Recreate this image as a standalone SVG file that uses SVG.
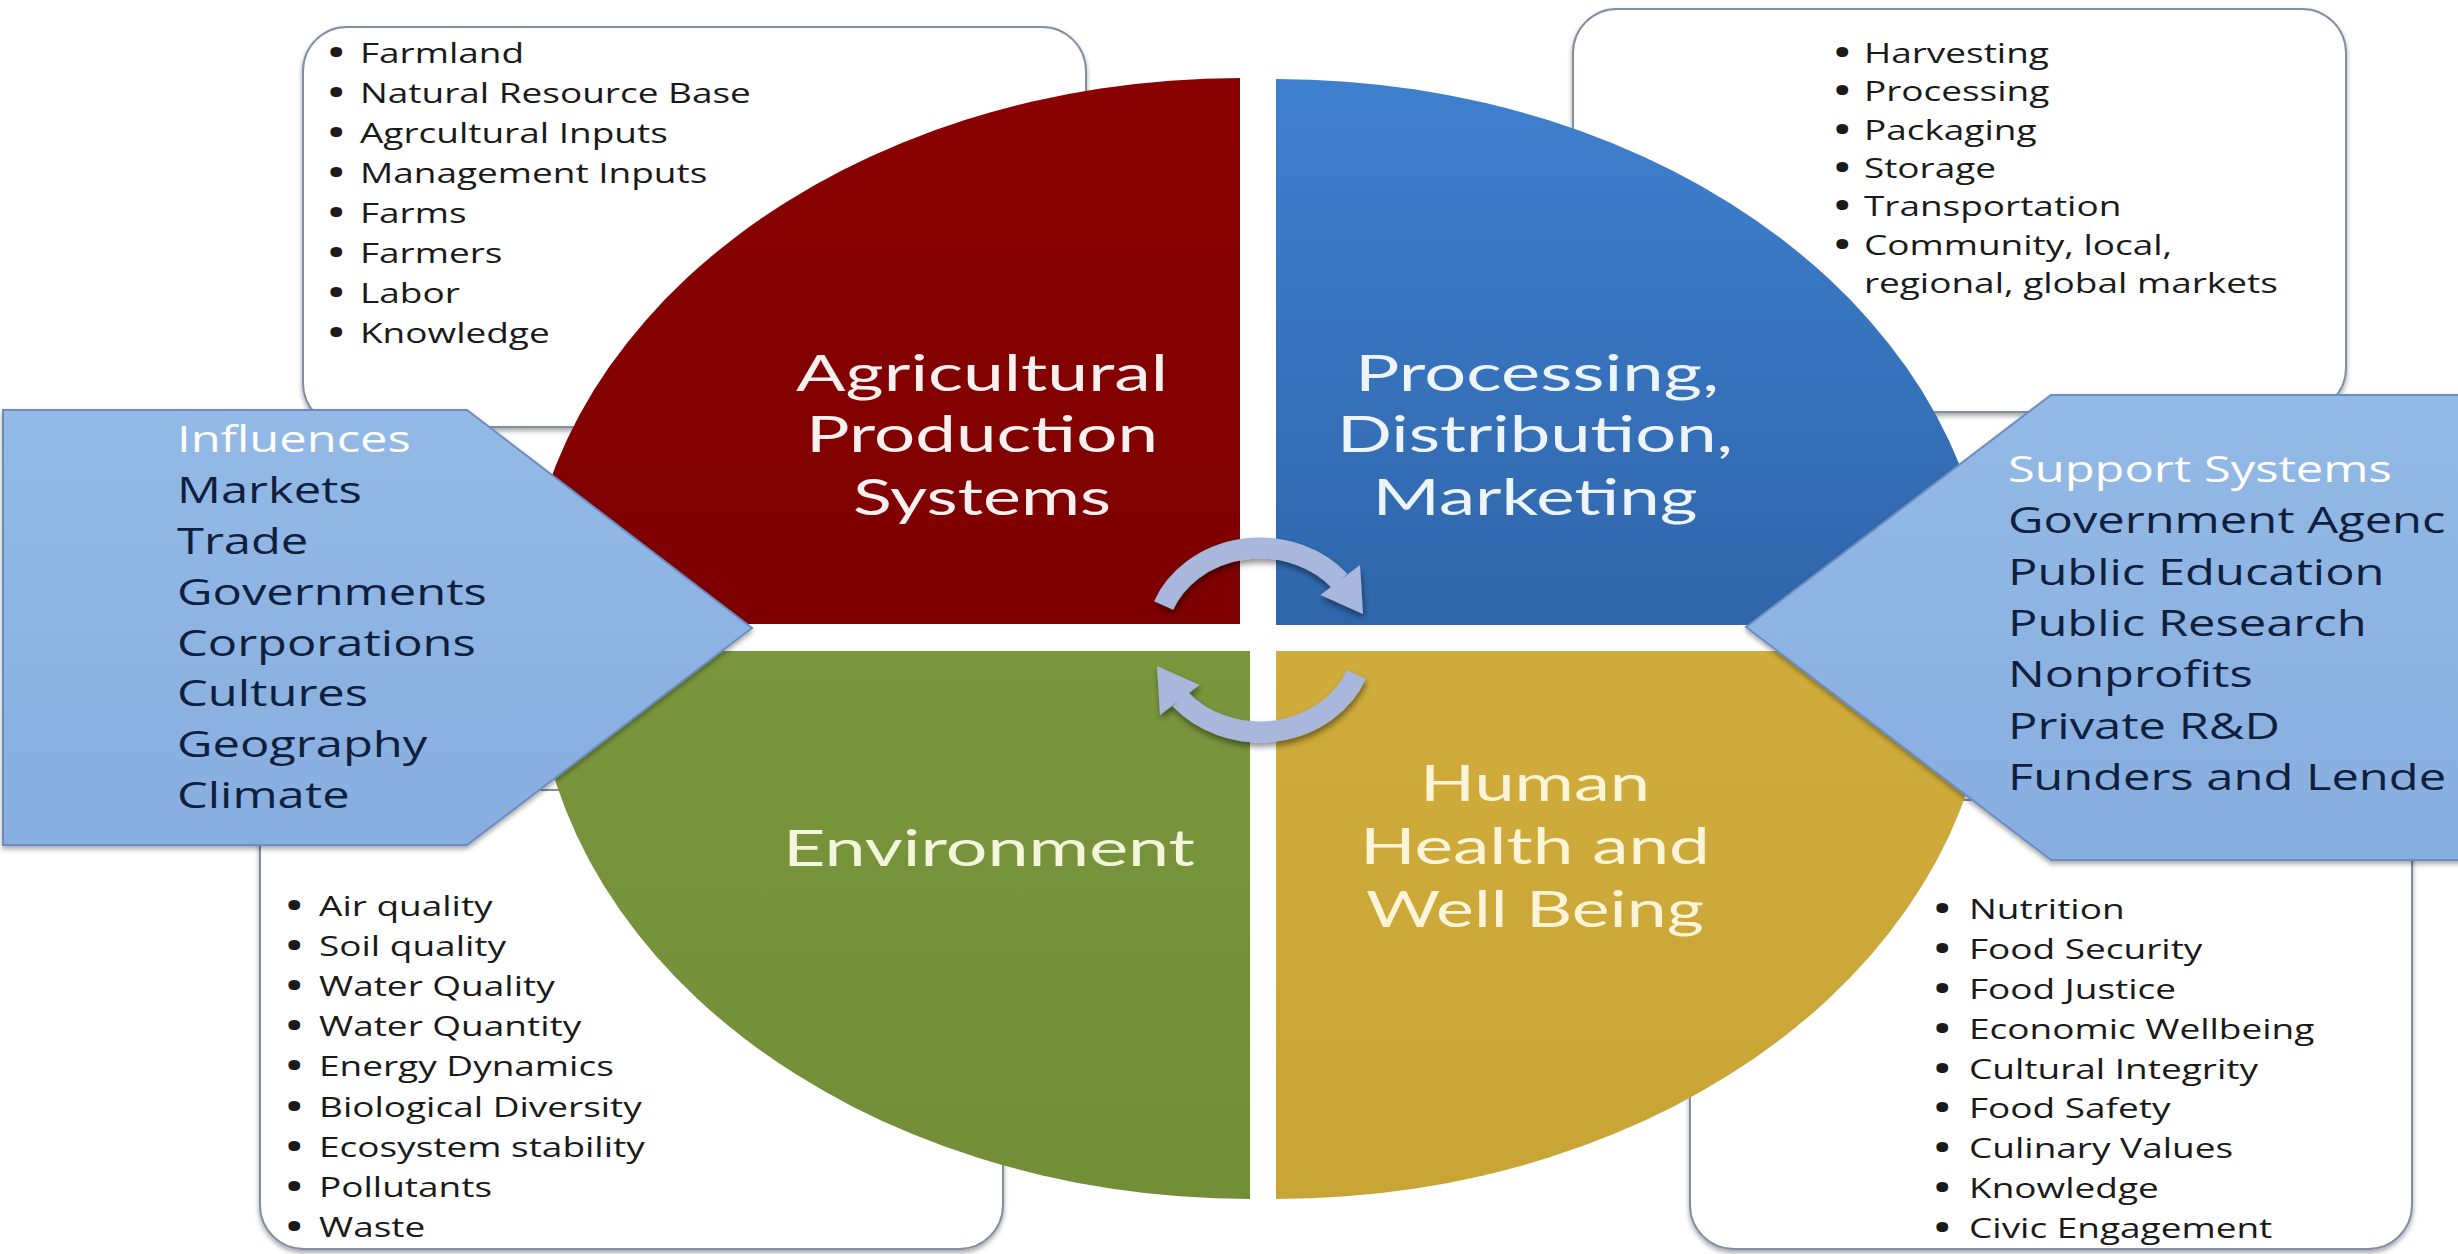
<svg xmlns="http://www.w3.org/2000/svg" width="2458" height="1254" viewBox="0 0 2458 1254">
<style>
.box{fill:#fff;stroke:#7F8FA6;stroke-width:2}
.lst{font-family:"Open Sans","Liberation Sans",sans-serif;font-size:27.5px;font-weight:500;fill:#1a1a1a}
.b{font-weight:800}
.q{font-family:Lato,"Open Sans","Liberation Sans",sans-serif;font-size:50.5px;text-anchor:middle}
.inf{font-family:"Open Sans","Liberation Sans",sans-serif;font-size:36.5px;font-weight:500;fill:#0F1F3D}
.hd{fill:#fff}
.pent{fill:url(#gPent);stroke:#6A8CC2;stroke-width:2}
</style>
<defs>
<linearGradient id="gRed" x1="0" y1="0" x2="0" y2="1"><stop offset="0" stop-color="#8A0101"/><stop offset="1" stop-color="#7E0000"/></linearGradient>
<linearGradient id="gBlue" x1="0" y1="0" x2="0" y2="1"><stop offset="0" stop-color="#3F80CE"/><stop offset="1" stop-color="#2F66AB"/></linearGradient>
<linearGradient id="gGreen" x1="0" y1="0" x2="0" y2="1"><stop offset="0" stop-color="#7A963D"/><stop offset="1" stop-color="#728E37"/></linearGradient>
<linearGradient id="gGold" x1="0" y1="0" x2="0" y2="1"><stop offset="0" stop-color="#CFAC3B"/><stop offset="1" stop-color="#C7A434"/></linearGradient>
<linearGradient id="gPent" x1="0" y1="0" x2="0" y2="1"><stop offset="0" stop-color="#93B9E6"/><stop offset="1" stop-color="#87AEDF"/></linearGradient>
<filter id="sh" x="-5%" y="-5%" width="110%" height="115%"><feDropShadow dx="0" dy="3" stdDeviation="2.5" flood-color="#000" flood-opacity="0.35"/></filter>
<filter id="shc" x="-20%" y="-20%" width="140%" height="150%"><feDropShadow dx="1" dy="4" stdDeviation="3" flood-color="#000" flood-opacity="0.45"/></filter>
<g id="cyc">
<path d="M1163.6,605.5 A104,92 0 0 1 1339.7,580.9" fill="none" stroke="#A9B7DD" stroke-width="21"/>
<polygon points="1360,565 1320.5,595 1363,614" fill="#A9B7DD"/>
</g>
</defs>
<rect x="0" y="0" width="2458" height="1254" fill="#fff"/>

<g id="box-production-inputs">
<rect class="box" x="303" y="27" width="783" height="400" rx="44" filter="url(#sh)"/>
<text class="lst" transform="translate(329 0) scale(1.345 1)"><tspan class="b" x="0" y="63">•</tspan><tspan x="23" y="63">Farmland</tspan><tspan class="b" x="0" y="103">•</tspan><tspan x="23" y="103">Natural Resource Base</tspan><tspan class="b" x="0" y="143">•</tspan><tspan x="23" y="143">Agrcultural Inputs</tspan><tspan class="b" x="0" y="183">•</tspan><tspan x="23" y="183">Management Inputs</tspan><tspan class="b" x="0" y="223">•</tspan><tspan x="23" y="223">Farms</tspan><tspan class="b" x="0" y="263">•</tspan><tspan x="23" y="263">Farmers</tspan><tspan class="b" x="0" y="303">•</tspan><tspan x="23" y="303">Labor</tspan><tspan class="b" x="0" y="343">•</tspan><tspan x="23" y="343">Knowledge</tspan></text>
</g>

<g id="box-distribution-items">
<rect class="box" x="1573" y="9" width="773" height="403" rx="44" filter="url(#sh)"/>
<text class="lst" transform="translate(1835 0) scale(1.345 1)"><tspan class="b" x="0" y="63">•</tspan><tspan x="21.5" y="63">Harvesting</tspan><tspan class="b" x="0" y="101">•</tspan><tspan x="21.5" y="101">Processing</tspan><tspan class="b" x="0" y="140">•</tspan><tspan x="21.5" y="140">Packaging</tspan><tspan class="b" x="0" y="178">•</tspan><tspan x="21.5" y="178">Storage</tspan><tspan class="b" x="0" y="216">•</tspan><tspan x="21.5" y="216">Transportation</tspan><tspan class="b" x="0" y="255">•</tspan><tspan x="21.5" y="255">Community, local,</tspan><tspan x="21.5" y="293">regional, global markets</tspan></text>
</g>

<g id="box-environment-items">
<rect class="box" x="260" y="790" width="743" height="459" rx="44" filter="url(#sh)"/>
<text class="lst" transform="translate(287 0) scale(1.345 1)"><tspan class="b" x="0" y="916">•</tspan><tspan x="23.8" y="916">Air quality</tspan><tspan class="b" x="0" y="956">•</tspan><tspan x="23.8" y="956">Soil quality</tspan><tspan class="b" x="0" y="996">•</tspan><tspan x="23.8" y="996">Water Quality</tspan><tspan class="b" x="0" y="1036">•</tspan><tspan x="23.8" y="1036">Water Quantity</tspan><tspan class="b" x="0" y="1076">•</tspan><tspan x="23.8" y="1076">Energy Dynamics</tspan><tspan class="b" x="0" y="1117">•</tspan><tspan x="23.8" y="1117">Biological Diversity</tspan><tspan class="b" x="0" y="1157">•</tspan><tspan x="23.8" y="1157">Ecosystem stability</tspan><tspan class="b" x="0" y="1197">•</tspan><tspan x="23.8" y="1197">Pollutants</tspan><tspan class="b" x="0" y="1237">•</tspan><tspan x="23.8" y="1237">Waste</tspan></text>
</g>

<g id="box-health-items">
<rect class="box" x="1690" y="800" width="722" height="449" rx="44" filter="url(#sh)"/>
<text class="lst" transform="translate(1935 0) scale(1.345 1)"><tspan class="b" x="0" y="919">•</tspan><tspan x="25.3" y="919">Nutrition</tspan><tspan class="b" x="0" y="959">•</tspan><tspan x="25.3" y="959">Food Security</tspan><tspan class="b" x="0" y="999">•</tspan><tspan x="25.3" y="999">Food Justice</tspan><tspan class="b" x="0" y="1039">•</tspan><tspan x="25.3" y="1039">Economic Wellbeing</tspan><tspan class="b" x="0" y="1079">•</tspan><tspan x="25.3" y="1079">Cultural Integrity</tspan><tspan class="b" x="0" y="1118">•</tspan><tspan x="25.3" y="1118">Food Safety</tspan><tspan class="b" x="0" y="1158">•</tspan><tspan x="25.3" y="1158">Culinary Values</tspan><tspan class="b" x="0" y="1198">•</tspan><tspan x="25.3" y="1198">Knowledge</tspan><tspan class="b" x="0" y="1238">•</tspan><tspan x="25.3" y="1238">Civic Engagement</tspan></text>
</g>

<g id="quad-agricultural-production">
<path d="M1240,624 H525 A715,546 0 0 1 1240,78 Z" fill="url(#gRed)"/>
<g class="q" fill="#F6F0F0">
<text x="982" y="391" textLength="372" lengthAdjust="spacingAndGlyphs">Agricultural</text>
<text x="982" y="452" textLength="352" lengthAdjust="spacingAndGlyphs">Production</text>
<text x="982" y="515" textLength="258" lengthAdjust="spacingAndGlyphs">Systems</text>
</g>
</g>

<g id="quad-processing">
<path d="M1276,625 V79 A715,546 0 0 1 1991,625 Z" fill="url(#gBlue)"/>
<g class="q" fill="#EEF4FB">
<text x="1537" y="391" textLength="364" lengthAdjust="spacingAndGlyphs">Processing,</text>
<text x="1535" y="452" textLength="396" lengthAdjust="spacingAndGlyphs">Distribution,</text>
<text x="1535" y="515" textLength="325" lengthAdjust="spacingAndGlyphs">Marketing</text>
</g>
</g>

<g id="quad-environment">
<path d="M1250,651 H535 A715,548 0 0 0 1250,1199 Z" fill="url(#gGreen)"/>
<text class="q" fill="#F3F6DA" x="989" y="866" textLength="412" lengthAdjust="spacingAndGlyphs">Environment</text>
</g>

<g id="quad-health">
<path d="M1276,651 H1991 A715,548 0 0 1 1276,1199 Z" fill="url(#gGold)"/>
<g class="q" fill="#FBF4D8">
<text x="1535" y="801" textLength="230" lengthAdjust="spacingAndGlyphs">Human</text>
<text x="1535" y="864" textLength="350" lengthAdjust="spacingAndGlyphs">Health and</text>
<text x="1535" y="927" textLength="338" lengthAdjust="spacingAndGlyphs">Well Being</text>
</g>
</g>

<g id="influences">
<polygon class="pent" points="3,410 467,410 752,628 467,845 3,845" filter="url(#sh)"/>
<text class="inf" transform="translate(177 0) scale(1.338 1)"><tspan class="hd" x="0" y="452">Influences</tspan><tspan x="0" y="503">Markets</tspan><tspan x="0" y="554">Trade</tspan><tspan x="0" y="605">Governments</tspan><tspan x="0" y="656">Corporations</tspan><tspan x="0" y="706">Cultures</tspan><tspan x="0" y="757">Geography</tspan><tspan x="0" y="808">Climate</tspan></text>
</g>

<g id="support-systems">
<polygon class="pent" points="1746,627 2051,395 2475,395 2475,860 2051,860" filter="url(#sh)"/>
<text class="inf" transform="translate(2008 0) scale(1.338 1)"><tspan class="hd" x="0" y="482">Support Systems</tspan><tspan x="0" y="533">Government Agenc</tspan><tspan x="0" y="585">Public Education</tspan><tspan x="0" y="636">Public Research</tspan><tspan x="0" y="687">Nonprofits</tspan><tspan x="0" y="739">Private R&amp;D</tspan><tspan x="0" y="790">Funders and Lende</tspan></text>
</g>

<g id="connectors" filter="url(#shc)">
<use href="#cyc"/>
<use href="#cyc" transform="rotate(180 1260 640)"/>
</g>
</svg>
